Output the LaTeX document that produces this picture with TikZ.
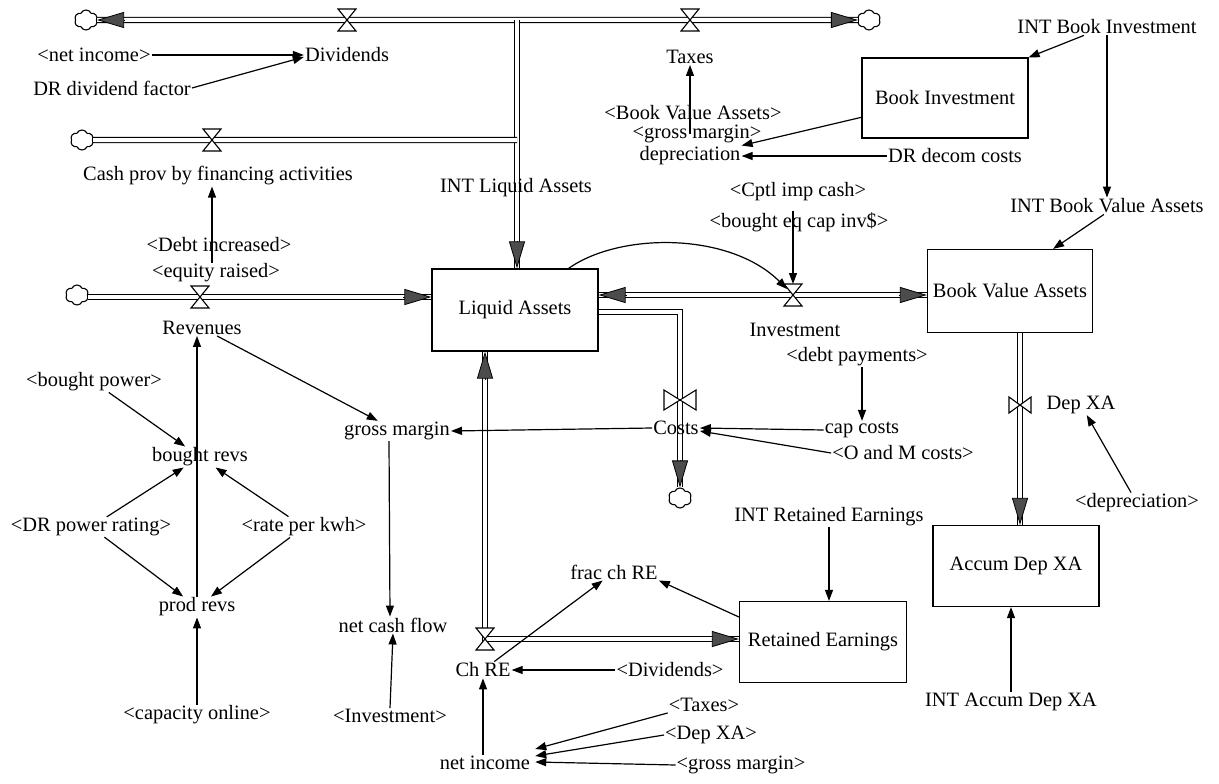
\documentclass[tikz,border=0pt]{standalone}
\usepackage{fontspec}
\setmainfont{Liberation Serif}
\usetikzlibrary{arrows.meta,calc,shapes.symbols}
\tikzset{
  lbl/.style={inner sep=1pt, font=\fontsize{20.4}{22}\selectfont},
  stock/.style={draw, line width=1.2pt, inner sep=0pt,
    minimum width=166pt, minimum height=82pt, font=\fontsize{20.4}{22}\selectfont},
  link/.style={line width=1.2pt, -{Triangle[length=11pt,width=8pt]}},
  pipe/.style={draw=black, line width=1.1pt, double=white, double distance=4pt},
  pipehead/.style={line width=0.8pt, -{Triangle[length=27pt,width=16pt,fill=black!70]}},
  src/.style={cloud, draw, cloud puffs=6, cloud puff arc=130, aspect=1.15,
    minimum width=23pt, minimum height=20pt, inner sep=0pt, line width=1.1pt},
  hvalve/.pic={\draw[line width=1.1pt, fill=white]
    (-9,-11) -- (9,-11) -- (-9,11) -- (9,11) -- cycle;},
  bvalve/.pic={\draw[line width=1.1pt, fill=white]
    (-16,-10) -- (-16,10) -- (16,-10) -- (16,10) -- cycle;},
  svalve/.pic={\draw[line width=1.1pt, fill=white]
    (-11,-8) -- (-11,8) -- (11,-8) -- (11,8) -- cycle;},
}
\begin{document}
\begin{tikzpicture}[x=1pt,y=-1pt]
\useasboundingbox (0,0) rectangle (1219,784);

% stocks
\node[stock] (LA)  at (515,310) {Liquid Assets};
\node[stock, minimum width=165pt, minimum height=83pt] (BVA) at (1010,291) {Book Value Assets};
\node[stock, minimum height=80pt] (BI)  at (945,98)  {Book Investment};
\node[stock, minimum width=167pt, minimum height=81pt] (RE)  at (823,642) {Retained Earnings};
\node[stock, minimum height=81pt] (ADX) at (1016,566) {Accum Dep XA};

% sources and sinks
\node[src] (cDiv)  at (86,20)   {};
\node[src] (cTax)  at (869,20)  {};
\node[src] (cCash) at (82,140)  {};
\node[src] (cRev)  at (77,295)  {};
\node[src] (cCost) at (680,498) {};

% valve and bend positions
\coordinate (vDiv)  at (347,20);
\coordinate (vTax)  at (690,20);
\coordinate (vCash) at (212,140);
\coordinate (vRev)  at (200,297);
\coordinate (vInv)  at (793,295);
\coordinate (vCost) at (680,400);
\coordinate (vDep)  at (1020,405);
\coordinate (vCh)   at (485,639);
\coordinate (J1)    at (517,20);
\coordinate (J2)    at (517,140);
\coordinate (cBend) at (680,312);

% pipes
\draw[pipe] (cDiv.east) -- (cTax.west);
\draw[pipe] (J1) -- (LA.north -| J1);
\draw[pipe] (cCash.east) -- (J2);
\draw[pipe] (cRev.east |- vRev) -- (LA.west |- vRev);
\draw[pipe] (LA.east |- vInv) -- (BVA.west |- vInv);
\draw[pipe] (LA.east |- cBend) -- (cBend) -- (cCost.north);
\draw[pipe] (BVA.south -| vDep) -- (ADX.north -| vDep);
\draw[pipe] (LA.south -| vCh) -- (vCh) -- (RE.west |- vCh);

% pipe heads
\draw[pipehead] ($(cDiv.east)+(27,0)$) -- (cDiv.east);
\draw[pipehead] ($(cTax.west)+(-27,0)$) -- (cTax.west);
\draw[pipehead] ($(LA.north -| J1)+(0,-27)$) -- (LA.north -| J1);
\draw[pipehead] ($(LA.west |- vRev)+(-28,0)$) -- (LA.west |- vRev);
\draw[pipehead] ($(LA.east |- vInv)+(28,0)$) -- (LA.east |- vInv);
\draw[pipehead] ($(BVA.west |- vInv)+(-28,0)$) -- (BVA.west |- vInv);
\draw[pipehead] ($(cCost.north)+(0,-27)$) -- (cCost.north);
\draw[pipehead] ($(ADX.north -| vDep)+(0,-27)$) -- (ADX.north -| vDep);
\draw[pipehead] ($(LA.south -| vCh)+(0,28)$) -- (LA.south -| vCh);
\draw[pipehead] ($(RE.west |- vCh)+(-27,0)$) -- (RE.west |- vCh);

% valves
\pic at (vDiv)  {hvalve};
\pic at (vTax)  {hvalve};
\pic at (vCash) {hvalve};
\pic at (vRev)  {hvalve};
\pic at (vInv)  {hvalve};
\pic at (vCh)   {hvalve};
\pic at (vCost) {bvalve};
\pic at (vDep)  {svalve};

% variables
\node[lbl] (netincR) at (94,55)   {<net income>};
\node[lbl] (drdiv)   at (112,88)  {DR dividend factor};
\node[lbl] (divs)    at (347,55)  {Dividends};
\node[lbl] (taxes)   at (690,57)  {Taxes};
\node[lbl] (cashlbl) at (218,176) {Cash prov by financing activities};
\node[lbl] (intla)   at (516,188) {INT Liquid Assets};
\node[lbl, inner sep=0pt] (bvaR) at (693,113) {<Book Value Assets>};
\node[lbl, inner sep=0pt] (gm2)  at (697,134) {<gross margin>};
\node[lbl] (depr)    at (690,156) {depreciation};
\node[lbl] (drdecom) at (955,156) {DR decom costs};
\node[lbl] (intbi)   at (1107,27) {INT Book Investment};
\node[lbl] (intbva)  at (1107,206) {INT Book Value Assets};
\node[lbl] (cptl)    at (798,192) {<Cptl imp cash>};
\node[lbl] (beq)     at (799,222) {<bought eq cap inv\$>};
\node[lbl] (debtinc) at (219,245) {<Debt increased>};
\node[lbl] (eqr)     at (216,273) {<equity raised>};
\node[lbl] (rev)     at (202,328) {Revenues};
\node[lbl] (invlbl)  at (795,330) {Investment};
\node[lbl] (debtp)   at (857,357) {<debt payments>};
\node[lbl] (bp)      at (94,382)  {<bought power>};
\node[lbl] (gm)      at (397,431) {gross margin};
\node[lbl] (costs)   at (676,428) {Costs};
\node[lbl] (capc)    at (862,430) {cap costs};
\node[lbl] (oandm)   at (903,453) {<O and M costs>};
\node[lbl] (br)      at (200,457) {bought revs};
\node[lbl] (depxa)   at (1081,405) {Dep XA};
\node[lbl] (deprR)   at (1137,503) {<depreciation>};
\node[lbl] (intre)   at (829,517) {INT Retained Earnings};
\node[lbl] (dpr)     at (91,527)  {<DR power rating>};
\node[lbl] (rpk)     at (304,527) {<rate per kwh>};
\node[lbl] (fcr)     at (614,572) {frac ch RE};
\node[lbl] (pr)      at (197,607) {prod revs};
\node[lbl] (ncf)     at (393,625) {net cash flow};
\node[lbl] (chre)    at (483,670) {Ch RE};
\node[lbl] (divR)    at (670,670) {<Dividends>};
\node[lbl] (intadx)  at (1011,702) {INT Accum Dep XA};
\node[lbl] (taxR)    at (704,705) {<Taxes>};
\node[lbl] (capon)   at (197,715) {<capacity online>};
\node[lbl] (invR)    at (390,716) {<Investment>};
\node[lbl] (depR)    at (711,735) {<Dep XA>};
\node[lbl] (ni)      at (485,763) {net income};
\node[lbl] (gm3)     at (741,765) {<gross margin>};

% information links
\draw[link] (netincR.east) -- (divs.west);
\draw[link] (drdiv.east) -- ([yshift=-2pt]divs.west);
\draw[link] (gm2 -| taxes) -- (taxes.south);
\draw[link] (BI.193) -- (depr.north east);
\draw[link] (drdecom.west) -- (depr.east);
\draw[link] (intbi.200) -- (BI.north east);
\draw[link] (intbi.south) -- (intbva.north);
\draw[link] (intbva.250) -- ([xshift=-40pt]BVA.north east);
\draw[link] (beq.north -| vInv) -- ([yshift=11pt]vInv);
\draw[link] ([xshift=-30pt]LA.north east) .. controls (620,232) and (730,232) .. ([shift={(-6pt,6pt)}]vInv);
\draw[link] (eqr.north -| vCash) -- (cashlbl.south -| vCash);
\draw[link] (debtp.south -| capc) -- (capc.north);
\draw[link] (capc.west) -- (costs.east);
\draw[link] (oandm.west) -- ([yshift=-3pt]costs.east);
\draw[link] (costs.west) -- (gm.east);
\draw[link] (rev) -- (gm);
\draw[link] ([xshift=-8pt]gm.south) -- ([xshift=-3pt]ncf.north);
\draw[link] (invR.north) -- (ncf.south);
\draw[link] (bp) -- (br);
\draw[link] (dpr) -- (br);
\draw[link] (rpk) -- (br);
\draw[link] (dpr) -- (pr);
\draw[link] (rpk) -- (pr);
\draw[link] (pr.north) -- (rev.south -| pr);
\draw[link] (capon.north) -- (pr.south);
\draw[link] (deprR) -- (depxa);
\draw[link] (intre.south) -- (intre.south |- RE.north);
\draw[link] (intadx.north) -- (ADX.south -| intadx);
\draw[link] (divR.west) -- (chre.east);
\draw[link] (chre) -- (fcr);
\draw[link] ([yshift=25pt]RE.west) -- (fcr.south east);
\draw[link] (ni.north -| chre) -- (chre.south);
\draw[link] (taxR.south west) -- ([shift={(4pt,14pt)}]ni.east);
\draw[link] (depR.west) -- ([shift={(4pt,7pt)}]ni.east);
\draw[link] (gm3.west) -- ([shift={(4pt,1pt)}]ni.east);
\end{tikzpicture}
\end{document}
